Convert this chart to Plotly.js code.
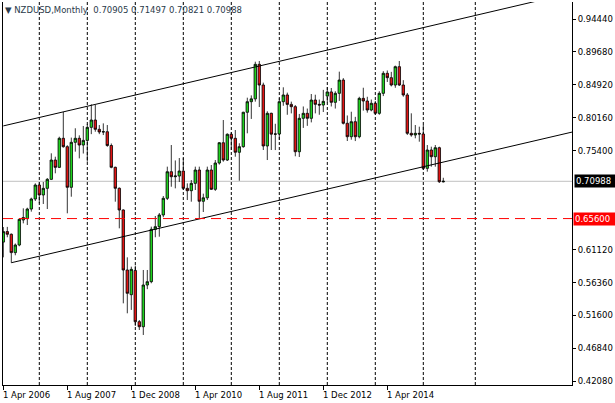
<!DOCTYPE html>
<html><head><meta charset="utf-8">
<script src="https://cdn.plot.ly/plotly-3.0.1.min.js"></script>
<style>html,body{margin:0;padding:0;background:#fff}#chart{width:615px;height:403px}</style>
</head><body><div id="chart"></div>
<script>
// NZDUSD monthly bars, first bar = Apr 2006 (bar index 0), last = Jun 2015 (index 110)
const firstMonth = 'Apr 2006';
const opens = [
0.6220,0.6372,0.6333,0.6068,0.6178,0.6540,0.6560,0.6698,0.6843,0.7045,
0.6901,0.6997,0.7127,0.7406,0.7300,0.7720,0.7599,0.7012,0.7662,0.7720,
0.7623,0.7690,0.7878,0.7984,0.7850,0.7811,0.7815,0.7616,0.7301,0.6998,
0.6684,0.5817,0.5460,0.5810,0.5070,0.4997,0.5600,0.5648,0.6405,0.6443,
0.6612,0.6853,0.7237,0.7165,0.7175,0.7247,0.6997,0.6963,0.7069,0.7262,
0.6810,0.6860,0.7262,0.6983,0.7363,0.7656,0.7406,0.7778,0.7720,0.7518,
0.7599,0.8096,0.8249,0.8290,0.8789,0.8490,0.7609,0.8081,0.7780,0.7782,
0.8249,0.8346,0.8210,0.8177,0.7526,0.8009,0.8081,0.8009,0.8273,0.8211,
0.8201,0.8330,0.8390,0.8240,0.8370,0.8562,0.7937,0.7743,0.7960,0.7743,
0.8297,0.8259,0.8129,0.8226,0.8081,0.8370,0.8659,0.8596,0.8490,0.8755,
0.8490,0.8346,0.7792,0.7768,0.7792,0.7782,0.7286,0.7551,0.7454,0.7584,
0.70905];
const highs = [
0.6438,0.6440,0.6345,0.6200,0.6560,0.6708,0.6717,0.6862,0.7069,0.7084,
0.7089,0.7146,0.7503,0.7454,0.7743,0.8100,0.7620,0.7730,0.7865,0.7763,
0.7898,0.7926,0.8211,0.8201,0.7912,0.7936,0.7912,0.7645,0.7310,0.7010,
0.6694,0.6000,0.5865,0.5880,0.5094,0.5817,0.5817,0.6443,0.6597,0.6640,
0.6886,0.7310,0.7623,0.7400,0.7435,0.7435,0.7069,0.7117,0.7310,0.7310,
0.6920,0.7310,0.7334,0.7406,0.7666,0.7984,0.7792,0.7807,0.7840,0.7648,
0.8104,0.8307,0.8340,0.8827,0.8837,0.8524,0.8110,0.8090,0.7930,0.8300,
0.8457,0.8380,0.8250,0.8200,0.8072,0.8180,0.8150,0.8360,0.8350,0.8280,
0.8420,0.8460,0.8447,0.8400,0.8683,0.8590,0.8050,0.8104,0.8030,0.8320,
0.8451,0.8320,0.8280,0.8260,0.8400,0.8690,0.8700,0.8680,0.8770,0.8837,
0.8560,0.8375,0.8081,0.7912,0.7888,0.7912,0.7623,0.7599,0.7623,0.7599,
0.71497];
const lows = [
0.6000,0.6290,0.5922,0.6030,0.6160,0.6491,0.6467,0.6660,0.6814,0.6781,
0.6771,0.6698,0.7117,0.7214,0.7290,0.7584,0.6636,0.6876,0.7527,0.7430,
0.7500,0.7382,0.7780,0.7815,0.7780,0.7767,0.7597,0.7287,0.6804,0.6419,
0.5335,0.5191,0.5240,0.5008,0.4950,0.4878,0.5540,0.5625,0.6290,0.6298,
0.6580,0.6828,0.7020,0.6997,0.7089,0.6973,0.6828,0.6804,0.6973,0.6560,
0.6655,0.6828,0.6973,0.6960,0.7340,0.7382,0.7392,0.7551,0.7454,0.7107,
0.7584,0.7792,0.8000,0.8250,0.8172,0.7551,0.7406,0.7551,0.7550,0.7700,
0.8190,0.8060,0.8080,0.7460,0.7450,0.7870,0.7900,0.7950,0.8080,0.8060,
0.8100,0.8240,0.8180,0.8150,0.8260,0.7920,0.7681,0.7700,0.7680,0.7720,
0.8120,0.8090,0.8110,0.8060,0.8060,0.8330,0.8534,0.8470,0.8450,0.8476,
0.8321,0.7768,0.7743,0.7720,0.7671,0.7262,0.7238,0.7310,0.7310,0.7074,
0.70821];
const closes = [
0.6372,0.6333,0.6068,0.6178,0.6549,0.6575,0.6698,0.6843,0.7045,0.6901,
0.6997,0.7127,0.7406,0.7300,0.7720,0.7599,0.7012,0.7662,0.7720,0.7623,
0.7690,0.7878,0.7984,0.7850,0.7811,0.7815,0.7616,0.7301,0.6998,0.6684,
0.5817,0.5480,0.5826,0.5070,0.4997,0.5600,0.5648,0.6405,0.6443,0.6612,
0.6853,0.7237,0.7165,0.7175,0.7247,0.6997,0.6963,0.7069,0.7262,0.6810,
0.6860,0.7262,0.6983,0.7363,0.7656,0.7406,0.7778,0.7720,0.7518,0.7599,
0.8096,0.8249,0.8290,0.8789,0.8490,0.7609,0.8081,0.7780,0.7782,0.8249,
0.8346,0.8210,0.8177,0.7526,0.8009,0.8081,0.8009,0.8273,0.8211,0.8201,
0.8254,0.8390,0.8240,0.8370,0.8562,0.7937,0.7743,0.7960,0.7743,0.8297,
0.8259,0.8129,0.8226,0.8081,0.8370,0.8659,0.8596,0.8490,0.8755,0.8490,
0.8346,0.7792,0.7768,0.7792,0.7782,0.7286,0.7551,0.7454,0.7584,0.7093,
0.70988];

const tickBars = [0, 16, 32, 48, 64, 80, 96];
const tickLabels = ['1 Apr 2006','1 Aug 2007','1 Dec 2008','1 Apr 2010','1 Aug 2011','1 Dec 2012','1 Apr 2014'];
const priceTicks = [0.42080,0.46840,0.51600,0.56360,0.61120,0.75400,0.80160,0.84920,0.89680,0.94440];
const gridBars = [9, 21, 33, 45, 57, 69, 81, 93, 105, 118];
const supportLevel = 0.65600;
const lastPrice = 0.70988;
const upperChannelBars = [0, 142.2];
const upperChannelPrices = [0.7899, 0.9823];
const lowerChannelBars = [2, 142.2];
const lowerChannelPrices = [0.5922, 0.7810];
const headerText = '▼ NZDUSD,Monthly  0.70905 0.71497 0.70821 0.70988';

const FONT = 'DejaVu Sans, sans-serif';
const x = opens.map((_, i) => i);

const traces = [
  {
    type: 'candlestick', x: x, open: opens, high: highs, low: lows, close: closes,
    increasing: {line: {color: '#000000', width: 0.8}, fillcolor: '#1fd21f'},
    decreasing: {line: {color: '#000000', width: 0.8}, fillcolor: '#e01414'},
    whiskerwidth: 0, hoverinfo: 'skip', showlegend: false
  },
  {type: 'scatter', mode: 'lines', x: upperChannelBars, y: upperChannelPrices,
   line: {color: '#000', width: 1}, hoverinfo: 'skip', showlegend: false},
  {type: 'scatter', mode: 'lines', x: lowerChannelBars, y: lowerChannelPrices,
   line: {color: '#000', width: 1}, hoverinfo: 'skip', showlegend: false}
];

const shapes = gridBars.map(b => ({
  type: 'line', xref: 'x', yref: 'paper', x0: b, x1: b, y0: 0, y1: 1,
  line: {color: '#000', width: 1, dash: '3px,2px'}, layer: 'below'
}));
shapes.push({type: 'line', xref: 'paper', yref: 'y', x0: 0, x1: 1, y0: lastPrice, y1: lastPrice,
  line: {color: '#c0c0c0', width: 1}, layer: 'below'});
shapes.push({type: 'line', xref: 'paper', yref: 'y', x0: 0, x1: 1, y0: supportLevel, y1: supportLevel,
  line: {color: '#ff0000', width: 1, dash: '10px,6px'}, layer: 'above'});

const annotations = tickBars.map((b, i) => ({
  xref: 'x', yref: 'paper', x: b, y: 0, xanchor: 'left', yanchor: 'top',
  xshift: -2, yshift: -3, text: tickLabels[i], showarrow: false,
  font: {family: FONT, size: 8.5, color: '#000'}
}));
annotations.push({xref: 'paper', yref: 'y', x: 1, y: lastPrice, xanchor: 'left', yanchor: 'middle',
  xshift: 2, text: lastPrice.toFixed(5), showarrow: false, bgcolor: '#000', borderpad: 1,
  width: 38, align: 'left', font: {family: FONT, size: 8.5, color: '#fff'}});
annotations.push({xref: 'paper', yref: 'y', x: 1, y: supportLevel, xanchor: 'left', yanchor: 'middle',
  xshift: 1, text: supportLevel.toFixed(5), showarrow: false, bgcolor: '#ff0000', borderpad: 1,
  width: 39, align: 'left', font: {family: FONT, size: 8.5, color: '#fff'}});

const layout = {
  width: 615, height: 403,
  margin: {l: 3, r: 43, t: 2, b: 18},
  paper_bgcolor: '#fff', plot_bgcolor: '#fff',
  showlegend: false,
  boxgap: 0.12,
  title: {text: headerText, xref: 'container', yref: 'container', x: 5/615, xanchor: 'left',
          y: 1 - 10/403, yanchor: 'middle', font: {family: FONT, size: 8.5, color: '#2a3a4a'}},
  xaxis: {
    range: [-0.075, 142.175], rangeslider: {visible: false},
    tickmode: 'array', tickvals: tickBars, showticklabels: false,
    ticks: 'outside', ticklen: 4, tickcolor: '#000', tickwidth: 1,
    showgrid: false, zeroline: false, showline: true, linecolor: '#000', linewidth: 1,
    fixedrange: true
  },
  yaxis: {
    side: 'right', range: [0.41550, 0.96897],
    tickmode: 'array', tickvals: priceTicks, ticktext: priceTicks.map(v => v.toFixed(5)),
    ticks: 'outside', ticklen: 3, tickcolor: '#000',
    tickfont: {family: FONT, size: 8.5, color: '#000'},
    showgrid: false, zeroline: false, showline: true, mirror: true, linecolor: '#000', linewidth: 1,
    fixedrange: true
  },
  shapes: shapes,
  annotations: annotations
};

Plotly.newPlot('chart', traces, layout, {displayModeBar: false, staticPlot: true});
</script>
</body></html>
